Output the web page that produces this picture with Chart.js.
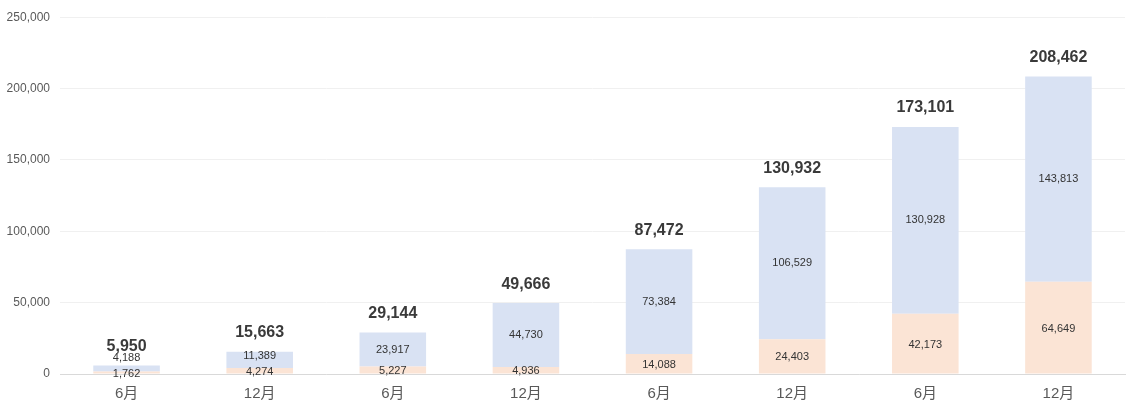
<!DOCTYPE html>
<html>
<head>
<meta charset="utf-8">
<script src="https://cdn.jsdelivr.net/npm/chart.js@4/dist/chart.umd.min.js"></script>
<style>
  html, body { margin: 0; padding: 0; background: #fff; }
  #wrap { width: 1140px; height: 413px; }
</style>
</head>
<body>
<div id="wrap"><canvas id="myChart"></canvas></div>
<script>
// data
const categories = ["6月", "12月", "6月", "12月", "6月", "12月", "6月", "12月"];
const lowerValues = [1762, 4274, 5227, 4936, 14088, 24403, 42173, 64649];
const upperValues = [4188, 11389, 23917, 44730, 73384, 106529, 130928, 143813];
const yTicks = [0, 50000, 100000, 150000, 200000, 250000];

const FONT = "Arial, 'Liberation Sans', 'Noto Sans CJK JP', sans-serif";
const fmt = (v) => v.toLocaleString("en-US");

// segment values inside the bars and totals on top
const barLabels = {
  id: "barLabels",
  afterDatasetsDraw(chart) {
    const ctx = chart.ctx;
    const lower = chart.getDatasetMeta(0).data;
    const upper = chart.getDatasetMeta(1).data;
    ctx.save();
    ctx.textAlign = "center";
    ctx.textBaseline = "middle";
    for (let i = 0; i < categories.length; i++) {
      const a = lower[i], b = upper[i];
      let yL = (a.y + a.base) / 2 + 1;
      let yU = (b.y + b.base) / 2;
      if (yU > yL - 16) yU = yL - 16;
      ctx.font = "11px " + FONT;
      ctx.fillStyle = "#333";
      ctx.fillText(fmt(lowerValues[i]), a.x, yL);
      ctx.fillText(fmt(upperValues[i]), b.x, yU);
      ctx.font = "bold 16px " + FONT;
      ctx.fillStyle = "#3a3a3a";
      ctx.fillText(fmt(lowerValues[i] + upperValues[i]), b.x, b.y - 19);
    }
    ctx.restore();
  }
};

const ctx = document.getElementById("myChart").getContext("2d");
const myChart = new Chart(ctx, {
  type: "bar",
  data: {
    labels: categories,
    datasets: [
      {
        label: "lower",
        data: lowerValues,
        backgroundColor: "#fbe4d5",
        barPercentage: 1,
        categoryPercentage: 0.5,
      },
      {
        label: "upper",
        data: upperValues,
        backgroundColor: "#d9e2f3",
        barPercentage: 1,
        categoryPercentage: 0.5,
      },
    ],
  },
  options: {
    responsive: true,
    maintainAspectRatio: false,
    animation: false,
    layout: { padding: { top: 3, right: 15, left: 0, bottom: 7 } },
    plugins: {
      legend: { display: false },
      tooltip: { enabled: false },
    },
    scales: {
      x: {
        stacked: true,
        grid: { display: false },
        border: { color: "#d9d9d9" },
        ticks: { color: "#595959", font: { size: 15, family: FONT }, padding: 3 },
      },
      y: {
        stacked: true,
        min: 0,
        max: 250000,
        afterBuildTicks(axis) {
          axis.ticks = yTicks.map((v) => ({ value: v }));
        },
        afterFit(axis) {
          axis.width = 60;
        },
        grid: { color: "#f0f0f0", drawTicks: false },
        border: { display: false },
        ticks: {
          color: "#595959",
          font: { size: 12, family: FONT },
          padding: 10,
          callback: (v) => fmt(v),
        },
      },
    },
  },
  plugins: [barLabels],
});
</script>
</body>
</html>
